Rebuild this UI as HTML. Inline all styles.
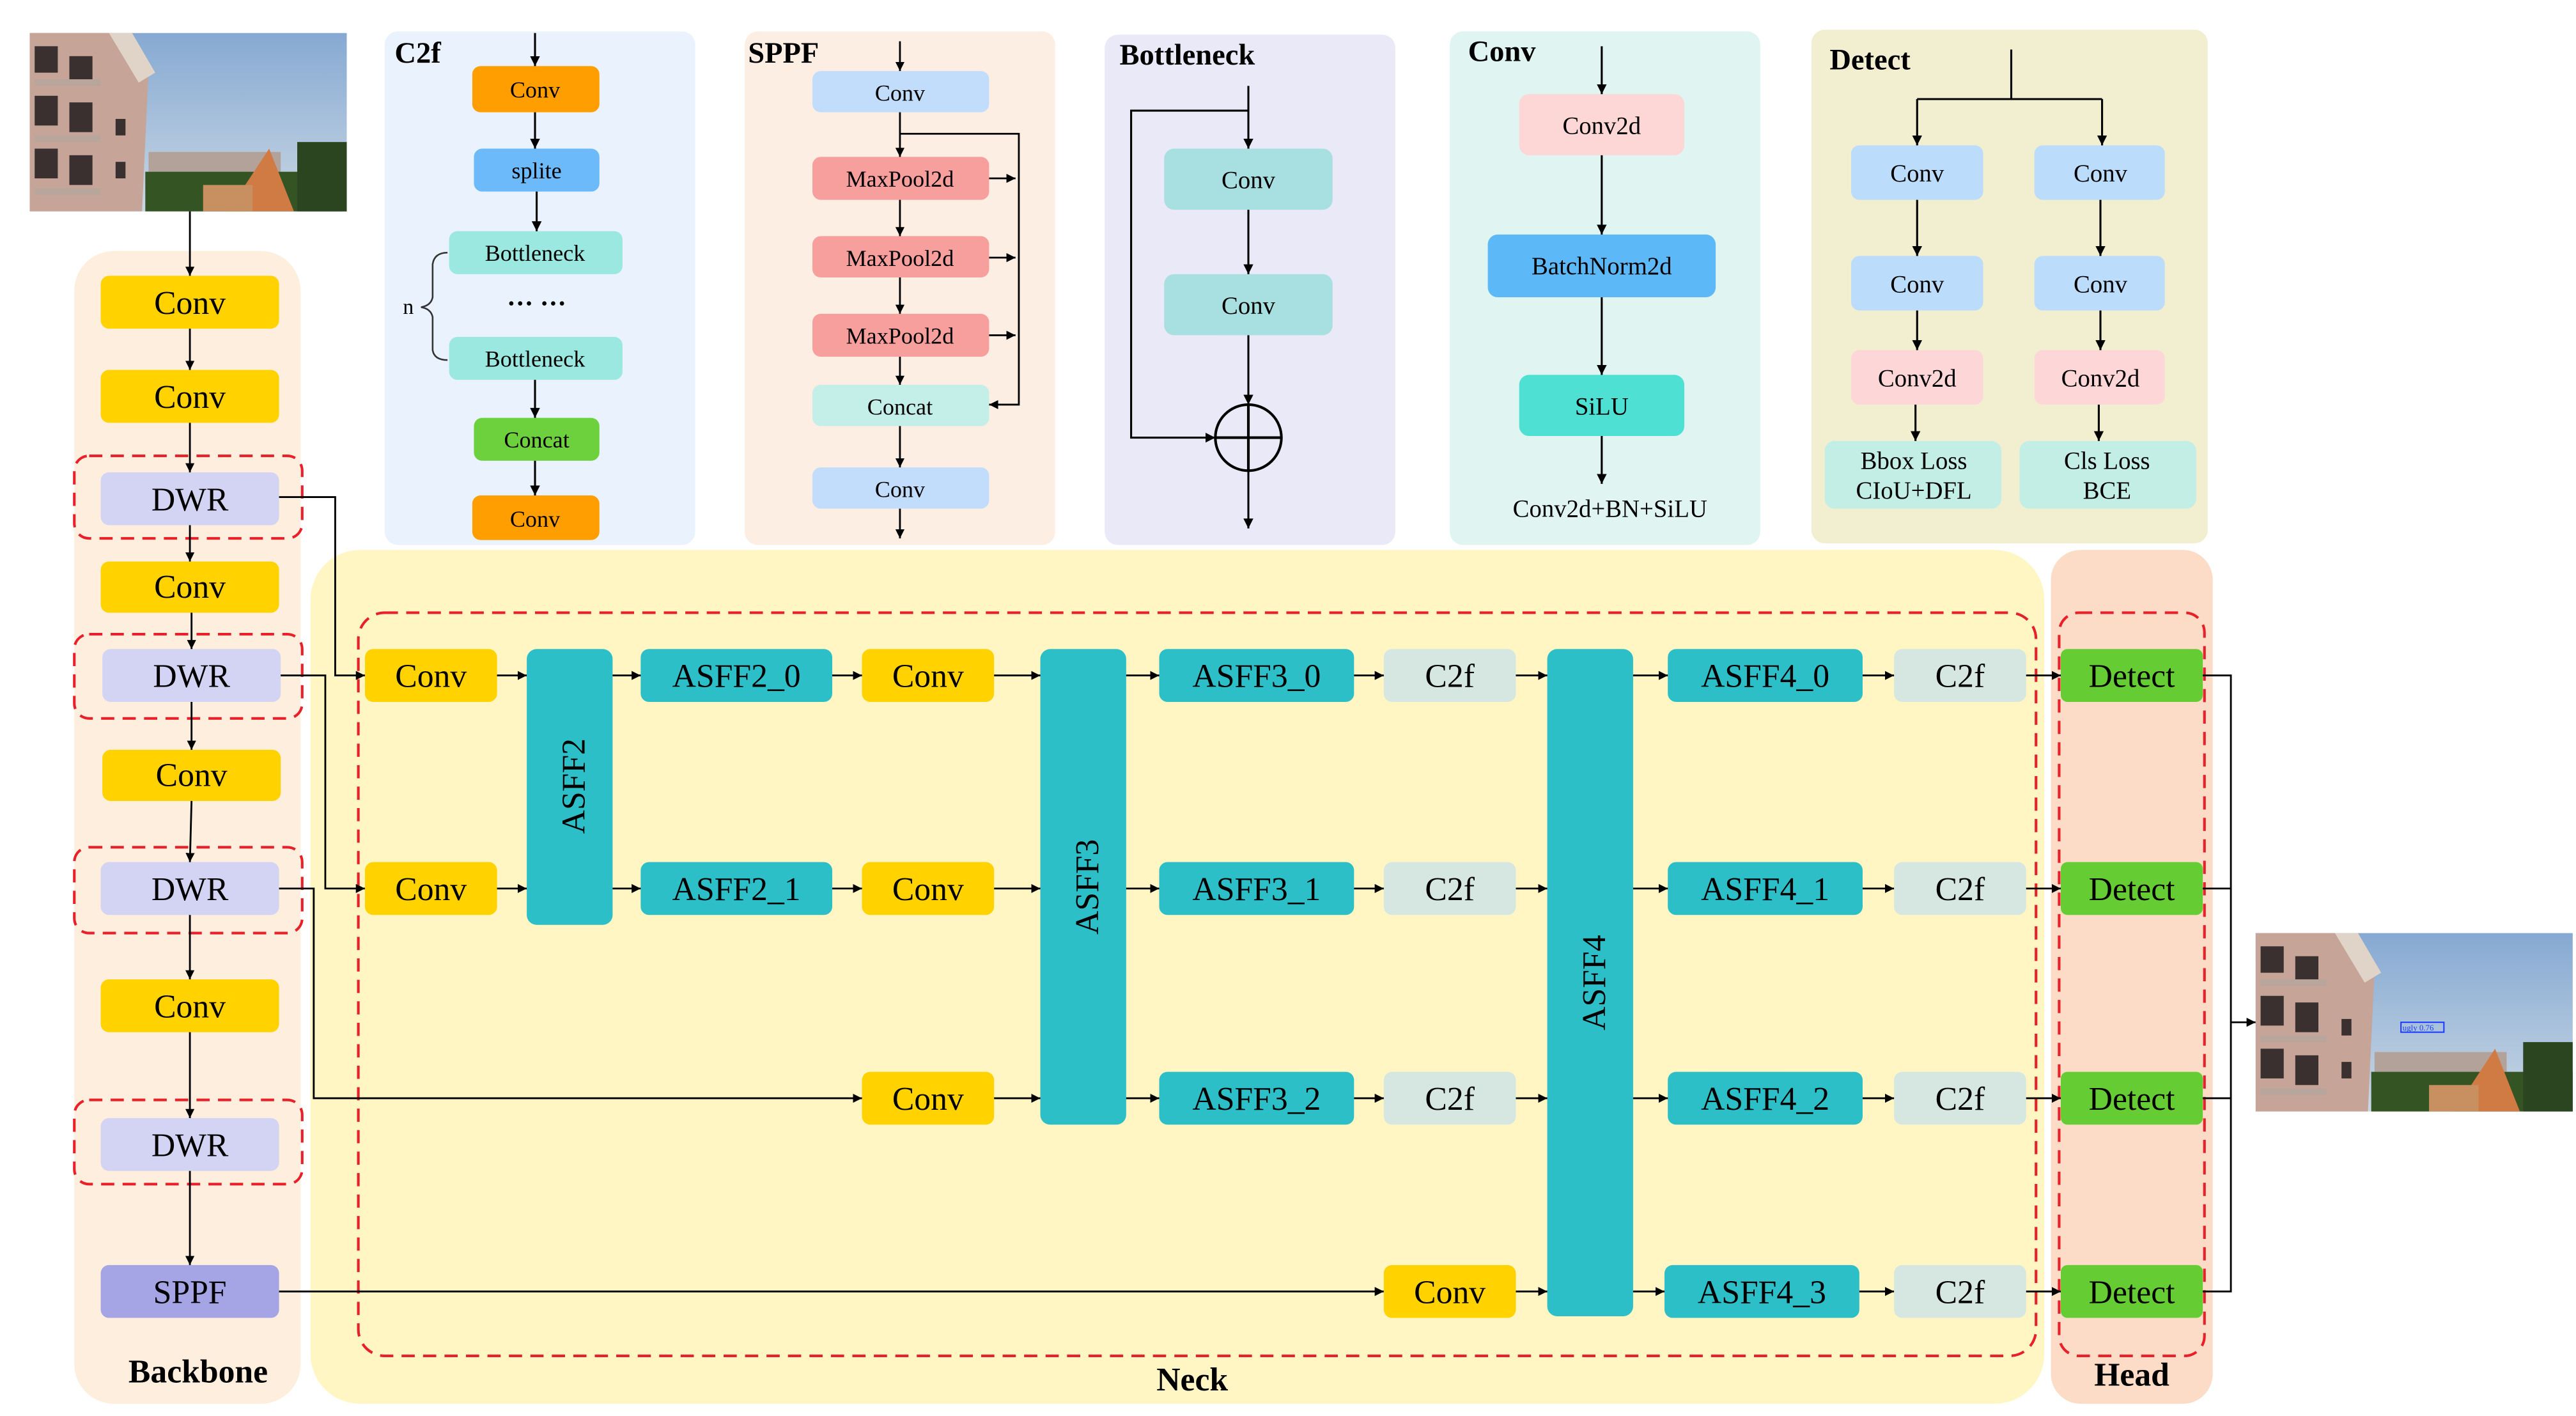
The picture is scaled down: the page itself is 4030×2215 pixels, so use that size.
<!DOCTYPE html>
<html><head><meta charset="utf-8"><style>
html,body{margin:0;padding:0;background:#fff;}
svg{display:block;font-family:"Liberation Serif",serif;}
svg text{font-family:"Liberation Serif",serif;}
</style></head><body>
<svg width="4030" height="2215" viewBox="0 0 1560 857.4" preserveAspectRatio="none" xmlns="http://www.w3.org/2000/svg" font-family="Liberation Serif, serif">
<defs>
<marker id="a" viewBox="0 0 10 10" refX="10" refY="5" markerWidth="5" markerHeight="5" orient="auto-start-reverse"><path d="M0,0 L10,5 L0,10 z" fill="#000"/></marker>
<linearGradient id="sky" x1="0" y1="0" x2="0" y2="1"><stop offset="0" stop-color="#86a9d2"/><stop offset="1" stop-color="#c9d7e4"/></linearGradient>
<g id="photo">
<rect x="0" y="0" width="192" height="108" fill="url(#sky)"/>
<polygon points="0,0 62,0 72,22 68,108 0,108" fill="#c6a497"/>
<polygon points="48,0 62,0 76,24 66,30" fill="#e0d4c8"/>
<g fill="#3a3030"><rect x="3" y="8" width="14" height="16"/><rect x="24" y="14" width="14" height="16"/><rect x="3" y="38" width="14" height="18"/><rect x="24" y="42" width="14" height="18"/><rect x="3" y="70" width="14" height="18"/><rect x="24" y="74" width="14" height="18"/><rect x="52" y="52" width="6" height="10"/><rect x="52" y="78" width="6" height="10"/></g>
<g fill="#b8a69c"><rect x="3" y="28" width="40" height="4"/><rect x="3" y="62" width="40" height="4"/><rect x="3" y="94" width="40" height="4"/></g>
<rect x="72" y="72" width="80" height="16" fill="#b3a29a"/>
<rect x="70" y="84" width="122" height="24" fill="#355424"/>
<polygon points="120,108 145,70 160,108" fill="#d07a44"/>
<rect x="162" y="66" width="30" height="42" fill="#2a4520"/>
<rect x="105" y="92" width="30" height="16" fill="#c89060"/>
</g>
</defs>
<rect width="1560" height="857.4" fill="#fff"/>

<use href="#photo" x="18" y="20"/>

<!-- C2f -->
<rect x="233" y="19" width="188" height="311" rx="8" fill="#eaf2fd"/>
<text x="239" y="38" font-size="18" font-weight="bold">C2f</text>
<g font-size="14" text-anchor="middle">
<rect x="286" y="40" width="77" height="28" rx="5" fill="#ff9e00"/><text x="324" y="59">Conv</text>
<rect x="287" y="90" width="76" height="26" rx="5" fill="#6cbafa"/><text x="325" y="108">splite</text>
<rect x="272" y="140" width="105" height="26" rx="5" fill="#9ae8e0"/><text x="324" y="158">Bottleneck</text>
<text x="325" y="189" font-size="16" font-weight="bold">··· ···</text>
<rect x="272" y="204" width="105" height="26" rx="5" fill="#9ae8e0"/><text x="324" y="222">Bottleneck</text>
<rect x="287" y="253" width="76" height="26" rx="5" fill="#6dd13e"/><text x="325" y="271">Concat</text>
<rect x="286" y="300" width="77" height="27" rx="5" fill="#ff9e00"/><text x="324" y="319">Conv</text>
</g>
<text x="244" y="190" font-size="13">n</text>
<path d="M271,153 Q263,153 262,160 L262,180 Q261,185 255,186 Q261,187 262,192 L262,212 Q263,218 271,218" fill="none" stroke="#333" stroke-width="1"/>
<g stroke="#000" stroke-width="1.2" fill="none" marker-end="url(#a)">
<line x1="324" y1="20" x2="324" y2="40"/><line x1="324" y1="68" x2="324" y2="90"/><line x1="325" y1="116" x2="325" y2="140"/>
<line x1="324" y1="230" x2="324" y2="253"/><line x1="324" y1="279" x2="324" y2="300"/>
</g>

<!-- SPPF -->
<rect x="451" y="19" width="188" height="311" rx="8" fill="#fdeee4"/>
<text x="453" y="38" font-size="18" font-weight="bold">SPPF</text>
<g font-size="14" text-anchor="middle">
<rect x="492" y="43" width="107" height="25" rx="5" fill="#c2ddfb"/><text x="545" y="61">Conv</text>
<rect x="492" y="95" width="107" height="26" rx="5" fill="#f79f9c"/><text x="545" y="113">MaxPool2d</text>
<rect x="492" y="143" width="107" height="25" rx="5" fill="#f79f9c"/><text x="545" y="161">MaxPool2d</text>
<rect x="492" y="190" width="107" height="26" rx="5" fill="#f79f9c"/><text x="545" y="208">MaxPool2d</text>
<rect x="492" y="233" width="107" height="25" rx="5" fill="#c4efe9"/><text x="545" y="251">Concat</text>
<rect x="492" y="283" width="107" height="25" rx="5" fill="#c2ddfb"/><text x="545" y="301">Conv</text>
</g>
<g stroke="#000" stroke-width="1.1" fill="none" marker-end="url(#a)">
<line x1="545" y1="25" x2="545" y2="43"/><line x1="545" y1="68" x2="545" y2="95"/><line x1="545" y1="121" x2="545" y2="143"/>
<line x1="545" y1="168" x2="545" y2="190"/><line x1="545" y1="216" x2="545" y2="233"/><line x1="545" y1="258" x2="545" y2="283"/>
<line x1="545" y1="308" x2="545" y2="326"/>
<line x1="599" y1="108" x2="615" y2="108"/><line x1="599" y1="156" x2="615" y2="156"/><line x1="599" y1="203" x2="615" y2="203"/>
<polyline points="545,81 617,81 617,245 599,245"/>
</g>

<!-- Bottleneck -->
<rect x="669" y="21" width="176" height="309" rx="8" fill="#e9e9f7"/>
<text x="678" y="39" font-size="18" font-weight="bold">Bottleneck</text>
<g font-size="15" text-anchor="middle">
<rect x="705" y="90" width="102" height="37" rx="6" fill="#a8e0e2"/><text x="756" y="114">Conv</text>
<rect x="705" y="166" width="102" height="37" rx="6" fill="#a8e0e2"/><text x="756" y="190">Conv</text>
</g>
<g stroke="#000" stroke-width="1.2" fill="none">
<circle cx="756" cy="265" r="20" stroke-width="1.6"/>
<line x1="736" y1="265" x2="776" y2="265" stroke-width="1.6"/>
<line x1="756" y1="245" x2="756" y2="285" stroke-width="1.6"/>
<line x1="756" y1="52" x2="756" y2="90" marker-end="url(#a)"/>
<line x1="756" y1="127" x2="756" y2="166" marker-end="url(#a)"/>
<line x1="756" y1="203" x2="756" y2="245" marker-end="url(#a)"/>
<line x1="756" y1="285" x2="756" y2="320" marker-end="url(#a)"/>
<polyline points="756,67 685,67 685,265 736,265" marker-end="url(#a)"/>
</g>

<!-- Conv panel -->
<rect x="878" y="19" width="188" height="311" rx="8" fill="#e0f5f2"/>
<text x="889" y="37" font-size="18" font-weight="bold">Conv</text>
<g font-size="15" text-anchor="middle">
<rect x="920" y="57" width="100" height="37" rx="6" fill="#fdd6d6"/><text x="970" y="81">Conv2d</text>
<rect x="901" y="142" width="138" height="38" rx="6" fill="#5cb8f6"/><text x="970" y="166">BatchNorm2d</text>
<rect x="920" y="227" width="100" height="37" rx="6" fill="#4ee0d3"/><text x="970" y="251">SiLU</text>
<text x="975" y="313">Conv2d+BN+SiLU</text>
</g>
<g stroke="#000" stroke-width="1.2" marker-end="url(#a)">
<line x1="970" y1="28" x2="970" y2="57"/><line x1="970" y1="94" x2="970" y2="142"/><line x1="970" y1="180" x2="970" y2="227"/><line x1="970" y1="264" x2="970" y2="293"/>
</g>

<!-- Detect panel -->
<rect x="1097" y="18" width="240" height="311" rx="8" fill="#f2eed0"/>
<text x="1108" y="42" font-size="18" font-weight="bold">Detect</text>
<g font-size="15" text-anchor="middle">
<rect x="1121" y="88" width="80" height="33" rx="5" fill="#bcdcfb"/><text x="1161" y="110">Conv</text>
<rect x="1232" y="88" width="79" height="33" rx="5" fill="#bcdcfb"/><text x="1272" y="110">Conv</text>
<rect x="1121" y="155" width="80" height="33" rx="5" fill="#bcdcfb"/><text x="1161" y="177">Conv</text>
<rect x="1232" y="155" width="79" height="33" rx="5" fill="#bcdcfb"/><text x="1272" y="177">Conv</text>
<rect x="1121" y="212" width="80" height="33" rx="5" fill="#fdd6d8"/><text x="1161" y="234">Conv2d</text>
<rect x="1232" y="212" width="79" height="33" rx="5" fill="#fdd6d8"/><text x="1272" y="234">Conv2d</text>
<rect x="1105" y="267" width="107" height="41" rx="6" fill="#c2eee6"/><text x="1159" y="284">Bbox Loss</text><text x="1159" y="302">CIoU+DFL</text>
<rect x="1223" y="267" width="107" height="41" rx="6" fill="#c2eee6"/><text x="1276" y="284">Cls Loss</text><text x="1276" y="302">BCE</text>
</g>
<g stroke="#000" stroke-width="1.2" fill="none">
<polyline points="1218,30 1218,60"/>
<polyline points="1161,60 1273,60"/>
<line x1="1161" y1="60" x2="1161" y2="88" marker-end="url(#a)"/>
<line x1="1273" y1="60" x2="1273" y2="88" marker-end="url(#a)"/>
<line x1="1161" y1="121" x2="1161" y2="155" marker-end="url(#a)"/>
<line x1="1272" y1="121" x2="1272" y2="155" marker-end="url(#a)"/>
<line x1="1161" y1="188" x2="1161" y2="212" marker-end="url(#a)"/>
<line x1="1272" y1="188" x2="1272" y2="212" marker-end="url(#a)"/>
<line x1="1160" y1="245" x2="1160" y2="267" marker-end="url(#a)"/>
<line x1="1271" y1="245" x2="1271" y2="267" marker-end="url(#a)"/>
</g>

<!-- main panels -->
<rect x="45" y="152" width="137" height="698" rx="24" fill="#fdeedd"/>
<rect x="188" y="333" width="1050" height="517" rx="30" fill="#fff6c4"/>
<rect x="1242" y="333" width="98" height="517" rx="18" fill="#fcdcc6"/>
<rect x="217" y="371" width="1016" height="450" rx="16" fill="none" stroke="#e8202a" stroke-width="1.6" stroke-dasharray="8,5"/>
<rect x="1247" y="371" width="88" height="450" rx="12" fill="none" stroke="#e8202a" stroke-width="1.6" stroke-dasharray="8,5"/>

<text x="120" y="837" font-size="20" font-weight="bold" text-anchor="middle">Backbone</text>
<text x="722" y="842" font-size="20" font-weight="bold" text-anchor="middle">Neck</text>
<text x="1291" y="839" font-size="20" font-weight="bold" text-anchor="middle">Head</text>

<!-- backbone -->
<g stroke="#e8202a" stroke-width="1.6" stroke-dasharray="8,5" fill="none">
<rect x="45" y="276" width="138" height="50" rx="9"/>
<rect x="45" y="384" width="138" height="51" rx="9"/>
<rect x="45" y="513" width="138" height="52" rx="9"/>
<rect x="45" y="666" width="138" height="51" rx="9"/>
</g>
<g font-size="20" text-anchor="middle">
<rect x="61" y="167" width="108" height="32" rx="5" fill="#ffd200"/><text x="115" y="190">Conv</text>
<rect x="61" y="224" width="108" height="32" rx="5" fill="#ffd200"/><text x="115" y="247">Conv</text>
<rect x="61" y="286" width="108" height="32" rx="5" fill="#d3d3f3"/><text x="115" y="309">DWR</text>
<rect x="61" y="340" width="108" height="31" rx="5" fill="#ffd200"/><text x="115" y="362">Conv</text>
<rect x="62" y="393" width="108" height="32" rx="5" fill="#d3d3f3"/><text x="116" y="416">DWR</text>
<rect x="62" y="454" width="108" height="31" rx="5" fill="#ffd200"/><text x="116" y="476">Conv</text>
<rect x="61" y="522" width="108" height="32" rx="5" fill="#d3d3f3"/><text x="115" y="545">DWR</text>
<rect x="61" y="593" width="108" height="32" rx="5" fill="#ffd200"/><text x="115" y="616">Conv</text>
<rect x="61" y="677" width="108" height="32" rx="5" fill="#d3d3f3"/><text x="115" y="700">DWR</text>
<rect x="61" y="766" width="108" height="32" rx="5" fill="#a5a5e6"/><text x="115" y="789">SPPF</text>
</g>
<g stroke="#000" stroke-width="1.1" fill="none" marker-end="url(#a)">
<line x1="115" y1="128" x2="115" y2="167"/><line x1="115" y1="199" x2="115" y2="224"/><line x1="115" y1="256" x2="115" y2="286"/>
<line x1="115" y1="318" x2="115" y2="340"/><line x1="116" y1="371" x2="116" y2="393"/><line x1="116" y1="425" x2="116" y2="454"/>
<line x1="116" y1="485" x2="115" y2="522"/><line x1="115" y1="554" x2="115" y2="593"/><line x1="115" y1="625" x2="115" y2="677"/>
<line x1="115" y1="709" x2="115" y2="766"/>
<polyline points="169,301 203,301 203,409 221,409"/>
<polyline points="170,409 197,409 197,538 221,538"/>
<polyline points="169,538 190,538 190,665 522,665"/>
<line x1="169" y1="782" x2="838" y2="782"/>
</g>

<!-- neck boxes -->
<g font-size="20" text-anchor="middle">
<rect x="221" y="393" width="80" height="32" rx="5" fill="#ffd200"/><text x="261" y="416">Conv</text>
<rect x="388" y="393" width="116" height="32" rx="5" fill="#2dbfc8"/><text x="446" y="416">ASFF2_0</text>
<rect x="522" y="393" width="80" height="32" rx="5" fill="#ffd200"/><text x="562" y="416">Conv</text>
<rect x="702" y="393" width="118" height="32" rx="5" fill="#2dbfc8"/><text x="761" y="416">ASFF3_0</text>
<rect x="838" y="393" width="80" height="32" rx="5" fill="#d5e7e0"/><text x="878" y="416">C2f</text>
<rect x="1010" y="393" width="118" height="32" rx="5" fill="#2dbfc8"/><text x="1069" y="416">ASFF4_0</text>
<rect x="1147" y="393" width="80" height="32" rx="5" fill="#d5e7e0"/><text x="1187" y="416">C2f</text>
<rect x="1248" y="393" width="86" height="32" rx="4" fill="#66cc33"/><text x="1291" y="416">Detect</text>
<rect x="221" y="522" width="80" height="32" rx="5" fill="#ffd200"/><text x="261" y="545">Conv</text>
<rect x="388" y="522" width="116" height="32" rx="5" fill="#2dbfc8"/><text x="446" y="545">ASFF2_1</text>
<rect x="522" y="522" width="80" height="32" rx="5" fill="#ffd200"/><text x="562" y="545">Conv</text>
<rect x="702" y="522" width="118" height="32" rx="5" fill="#2dbfc8"/><text x="761" y="545">ASFF3_1</text>
<rect x="838" y="522" width="80" height="32" rx="5" fill="#d5e7e0"/><text x="878" y="545">C2f</text>
<rect x="1010" y="522" width="118" height="32" rx="5" fill="#2dbfc8"/><text x="1069" y="545">ASFF4_1</text>
<rect x="1147" y="522" width="80" height="32" rx="5" fill="#d5e7e0"/><text x="1187" y="545">C2f</text>
<rect x="1248" y="522" width="86" height="32" rx="4" fill="#66cc33"/><text x="1291" y="545">Detect</text>
<rect x="522" y="649" width="80" height="32" rx="5" fill="#ffd200"/><text x="562" y="672">Conv</text>
<rect x="702" y="649" width="118" height="32" rx="5" fill="#2dbfc8"/><text x="761" y="672">ASFF3_2</text>
<rect x="838" y="649" width="80" height="32" rx="5" fill="#d5e7e0"/><text x="878" y="672">C2f</text>
<rect x="1010" y="649" width="118" height="32" rx="5" fill="#2dbfc8"/><text x="1069" y="672">ASFF4_2</text>
<rect x="1147" y="649" width="80" height="32" rx="5" fill="#d5e7e0"/><text x="1187" y="672">C2f</text>
<rect x="1248" y="649" width="86" height="32" rx="4" fill="#66cc33"/><text x="1291" y="672">Detect</text>
<rect x="838" y="766" width="80" height="32" rx="5" fill="#ffd200"/><text x="878" y="789">Conv</text>
<rect x="1008" y="766" width="118" height="32" rx="5" fill="#2dbfc8"/><text x="1067" y="789">ASFF4_3</text>
<rect x="1147" y="766" width="80" height="32" rx="5" fill="#d5e7e0"/><text x="1187" y="789">C2f</text>
<rect x="1248" y="766" width="86" height="32" rx="4" fill="#66cc33"/><text x="1291" y="789">Detect</text>
<rect x="319" y="393" width="52" height="167" rx="6" fill="#2dbfc8"/>
<text transform="translate(354,476) rotate(-90)" font-size="20">ASFF2</text>
<rect x="630" y="393" width="52" height="288" rx="6" fill="#2dbfc8"/>
<text transform="translate(665,537) rotate(-90)" font-size="20">ASFF3</text>
<rect x="937" y="393" width="52" height="404" rx="6" fill="#2dbfc8"/>
<text transform="translate(972,595) rotate(-90)" font-size="20">ASFF4</text>
</g>

<!-- neck arrows -->
<g stroke="#000" stroke-width="1.1" marker-end="url(#a)">
<line x1="301" y1="409" x2="319" y2="409"/><line x1="371" y1="409" x2="388" y2="409"/><line x1="504" y1="409" x2="522" y2="409"/>
<line x1="602" y1="409" x2="630" y2="409"/><line x1="682" y1="409" x2="702" y2="409"/><line x1="820" y1="409" x2="838" y2="409"/>
<line x1="918" y1="409" x2="937" y2="409"/><line x1="989" y1="409" x2="1010" y2="409"/><line x1="1128" y1="409" x2="1147" y2="409"/>
<line x1="1227" y1="409" x2="1248" y2="409"/>
<line x1="301" y1="538" x2="319" y2="538"/><line x1="371" y1="538" x2="388" y2="538"/><line x1="504" y1="538" x2="522" y2="538"/>
<line x1="602" y1="538" x2="630" y2="538"/><line x1="682" y1="538" x2="702" y2="538"/><line x1="820" y1="538" x2="838" y2="538"/>
<line x1="918" y1="538" x2="937" y2="538"/><line x1="989" y1="538" x2="1010" y2="538"/><line x1="1128" y1="538" x2="1147" y2="538"/>
<line x1="1227" y1="538" x2="1248" y2="538"/>
<line x1="602" y1="665" x2="630" y2="665"/><line x1="682" y1="665" x2="702" y2="665"/><line x1="820" y1="665" x2="838" y2="665"/>
<line x1="918" y1="665" x2="937" y2="665"/><line x1="989" y1="665" x2="1010" y2="665"/><line x1="1128" y1="665" x2="1147" y2="665"/>
<line x1="1227" y1="665" x2="1248" y2="665"/>
<line x1="918" y1="782" x2="937" y2="782"/><line x1="989" y1="782" x2="1008" y2="782"/><line x1="1126" y1="782" x2="1147" y2="782"/>
<line x1="1227" y1="782" x2="1248" y2="782"/>
</g>
<g stroke="#000" stroke-width="1.1" fill="none">
<polyline points="1334,409 1351,409 1351,782 1334,782"/>
<line x1="1334" y1="538" x2="1351" y2="538"/>
<line x1="1334" y1="665" x2="1351" y2="665"/>
<line x1="1351" y1="619" x2="1366" y2="619" marker-end="url(#a)"/>
</g>

<use href="#photo" x="1366" y="565"/>
<rect x="1454" y="619" width="26" height="6" fill="none" stroke="#1a3cff" stroke-width="0.8"/>
<text x="1455" y="624" font-size="5" fill="#1a3cff">ugly 0.76</text>
</svg>
</body></html>
